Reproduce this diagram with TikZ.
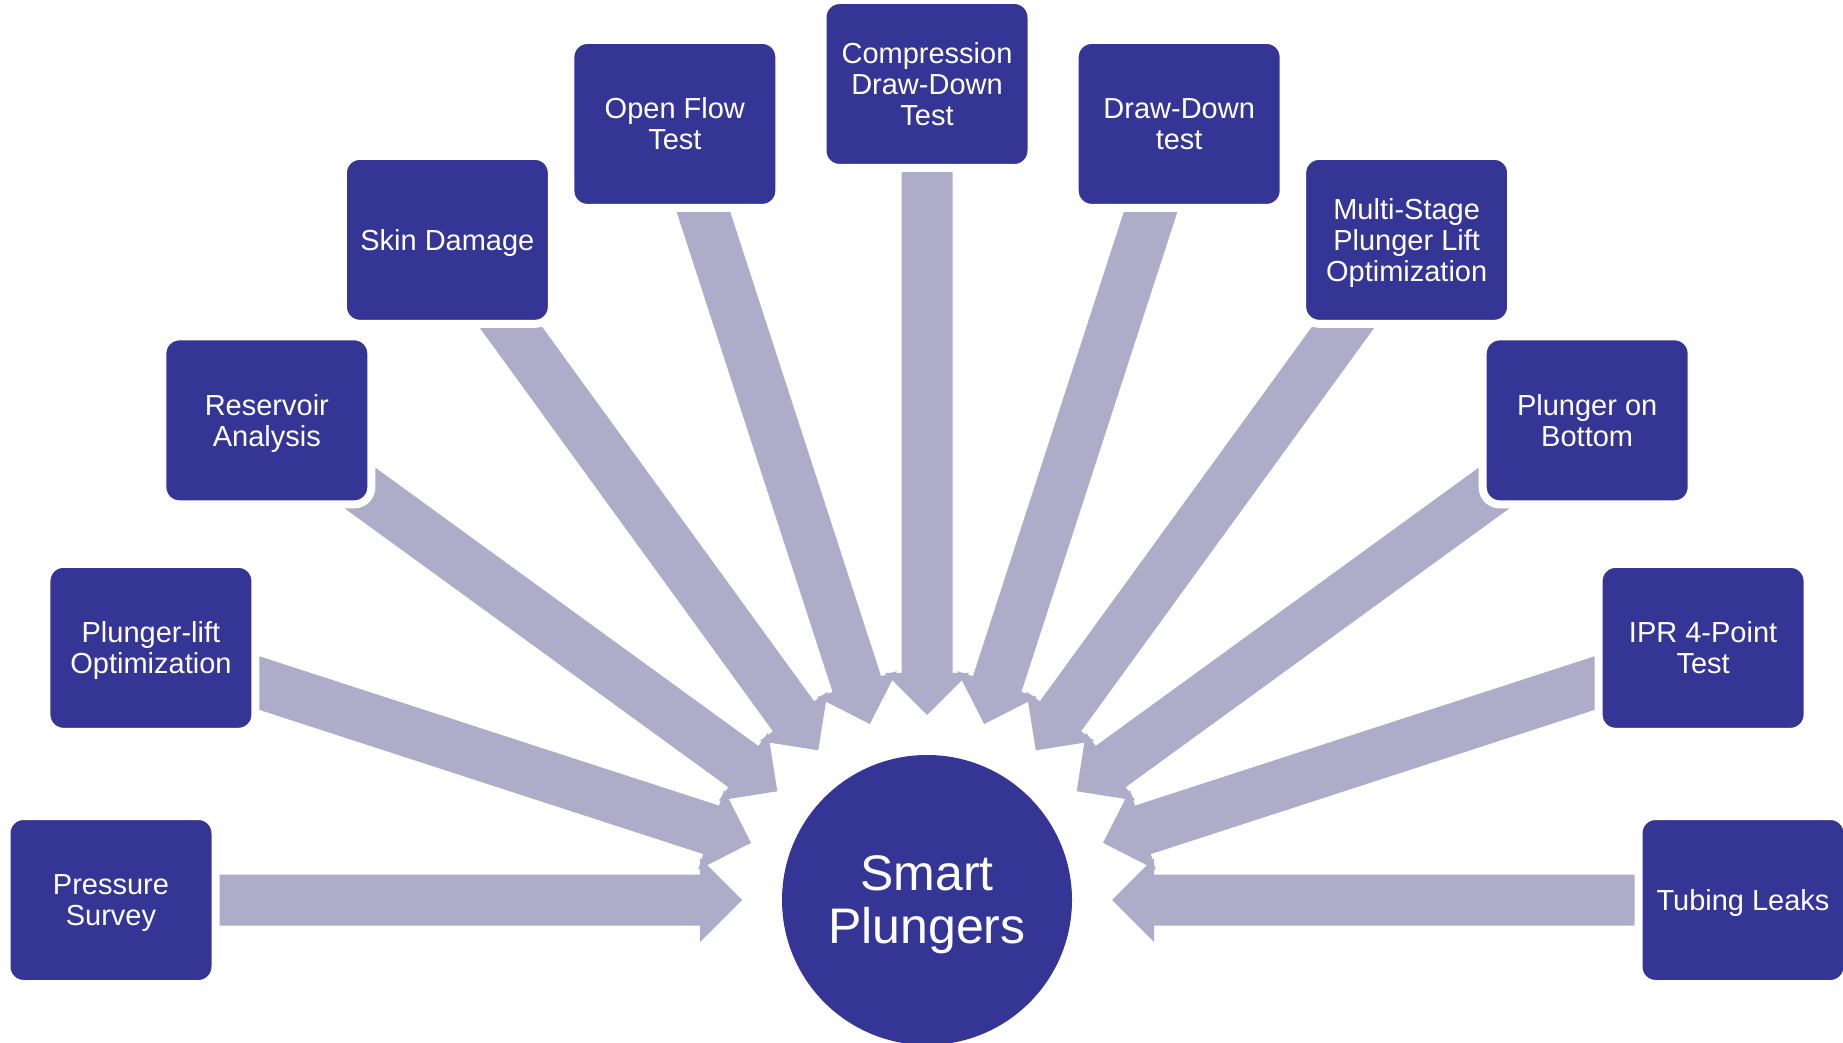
\documentclass[tikz,border=0pt]{standalone}
\usepackage{fontspec}
\setmainfont{Liberation Sans}
\usetikzlibrary{calc,backgrounds}
\definecolor{boxblue}{RGB}{53,53,150}
\definecolor{arrowgray}{RGB}{173,173,202}
\begin{document}
\begin{tikzpicture}[x=1pt,y=1pt,
  topic/.style={rectangle, rounded corners=17pt, fill=boxblue, draw=white, line width=8pt,
    minimum width=209pt, minimum height=168pt, inner sep=0pt, text=white, align=center,
    text depth=0pt, font=\fontsize{29}{31}\selectfont},
  hubstyle/.style={circle, fill=boxblue, minimum size=290pt, inner sep=0pt, text=white,
    align=center, text depth=0pt, font=\fontsize{50}{53}\selectfont},
  blockarrow/.style={fill=arrowgray}]
\path[use as bounding box] (0,0) rectangle (1843,1042);
\clip (0,0) rectangle (1843,1042);
\node[hubstyle] (hub) at (927,142) {Smart\\Plungers};
\foreach \a/\t [count=\i from 0] in {
   0/{Tubing Leaks},
  18/{IPR 4-Point\\Test},
  36/{Plunger on\\Bottom},
  54/{Multi-Stage\\Plunger Lift\\Optimization},
  72/{Draw-Down\\test},
  90/{Compression\\Draw-Down\\Test},
 108/{Open Flow\\Test},
 126/{Skin Damage},
 144/{Reservoir\\Analysis},
 162/{Plunger-lift\\Optimization},
 180/{Pressure\\Survey}} {
  \node[topic] (b\i) at ($(hub.center)+(\a:816)$) {\t};
}
\begin{pgfonlayer}{background}
\foreach \i in {0,...,10} {
  \coordinate (tip\i) at ($(hub.center)!185pt!(b\i.center)$);
  \coordinate (neck\i) at ($(hub.center)!227pt!(b\i.center)$);
  \fill[blockarrow] (tip\i)
    -- ($(neck\i)!42pt!90:(b\i.center)$)
    -- ($(neck\i)!25.5pt!90:(b\i.center)$)
    -- ($(b\i.center)!25.5pt!-90:(hub.center)$)
    -- ($(b\i.center)!25.5pt!90:(hub.center)$)
    -- ($(neck\i)!25.5pt!-90:(b\i.center)$)
    -- ($(neck\i)!42pt!-90:(b\i.center)$)
    -- cycle;
}
\end{pgfonlayer}
\end{tikzpicture}
\end{document}
